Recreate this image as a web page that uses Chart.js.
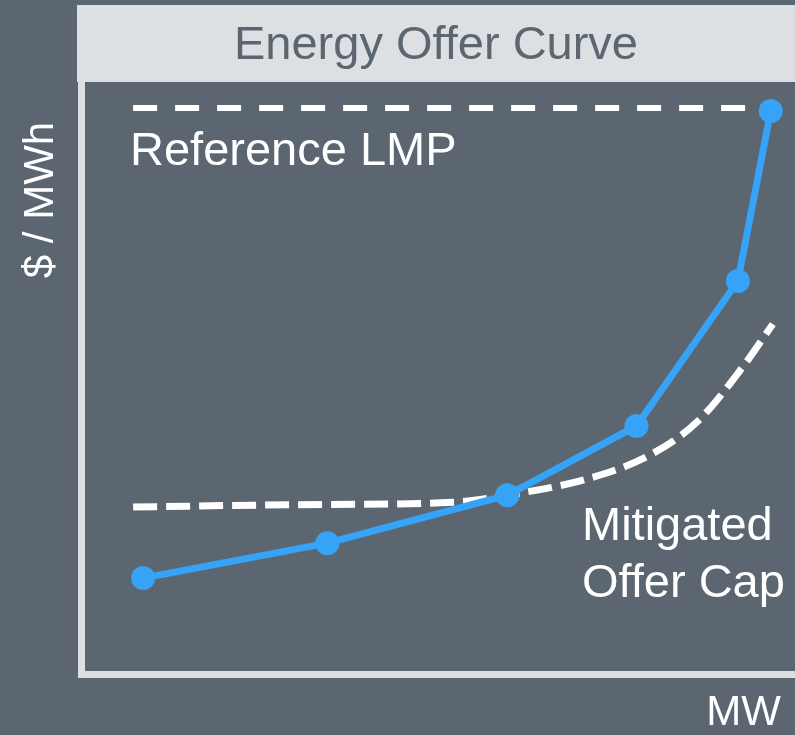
<!DOCTYPE html>
<html>
<head>
<meta charset="utf-8">
<script src="https://cdn.jsdelivr.net/npm/chart.js@4.4.1/dist/chart.umd.min.js"></script>
<style>
    html, body { margin: 0; padding: 0; background: #5b6670; }
    #wrap { width: 795px; height: 735px; position: relative; }
</style>
</head>
<body>
<div id="wrap"><canvas id="offerChart"></canvas></div>
<script>
// offer curve steps (MW, $/MWh), arbitrary units 0-100
const offerMw = [8.7, 34.5, 59.7, 77.8, 92.0, 96.6];
const offerPrice = [16.2, 22.1, 30.2, 41.9, 66.4, 95.1];

// mitigated offer cap curve
const capMw = [7.3, 30, 52, 59.7, 71.3, 79.7, 86.3, 92.7, 96.9];
const capPrice = [28.2, 28.6, 29.0, 30.2, 33.1, 37.0, 42.6, 51.9, 59.1];

// reference LMP level
const lmpMw = [7.3, 95.1];
const lmpPrice = [95.6, 95.6];

const bg = '#5b6670';
const light = '#dde0e3';
const blue = '#36a3f7';
const font = '"Liberation Sans", Arial, sans-serif';

function toPoints(xs, ys) {
    return xs.map((x, i) => ({ x: x, y: ys[i] }));
}

const decorations = {
    id: 'decorations',
    beforeDraw(chart) {
        const ctx = chart.ctx;
        ctx.save();
        ctx.fillStyle = bg;
        ctx.fillRect(0, 0, chart.width, chart.height);
        // title band
        ctx.fillStyle = light;
        ctx.fillRect(77, 5, chart.width - 77, 77);
        ctx.fillStyle = bg;
        ctx.font = '47px ' + font;
        ctx.textAlign = 'center';
        ctx.textBaseline = 'middle';
        ctx.fillText('Energy Offer Curve', 436, 46);
        ctx.restore();
    },
    afterDraw(chart) {
        const ctx = chart.ctx;
        ctx.save();
        ctx.fillStyle = '#ffffff';
        ctx.font = '47px ' + font;
        ctx.textBaseline = 'middle';
        ctx.textAlign = 'left';
        ctx.fillText('Reference LMP', 130, 152);
        ctx.fillText('Mitigated', 582, 527);
        ctx.fillText('Offer Cap', 582, 584);
        ctx.font = '42px ' + font;
        ctx.textAlign = 'right';
        ctx.fillText('MW', 781, 713);
        ctx.translate(41, 200);
        ctx.rotate(-Math.PI / 2);
        ctx.textAlign = 'center';
        ctx.fillText('$ / MWh', 0, 0);
        ctx.restore();
    }
};

new Chart(document.getElementById('offerChart'), {
    type: 'line',
    data: {
        datasets: [
            {
                label: 'Reference LMP',
                data: toPoints(lmpMw, lmpPrice),
                borderColor: '#ffffff',
                borderWidth: 6,
                borderDash: [24, 18],
                pointRadius: 0,
                order: 3
            },
            {
                label: 'Mitigated Offer Cap',
                data: toPoints(capMw, capPrice),
                borderColor: '#ffffff',
                borderWidth: 7,
                borderDash: [24, 9],
                cubicInterpolationMode: 'monotone',
                pointRadius: 0,
                order: 2
            },
            {
                label: 'Energy Offer',
                data: toPoints(offerMw, offerPrice),
                borderColor: blue,
                backgroundColor: blue,
                borderWidth: 7,
                pointRadius: 12,
                pointBorderWidth: 0,
                pointBackgroundColor: blue,
                order: 1
            }
        ]
    },
    options: {
        responsive: true,
        maintainAspectRatio: false,
        animation: false,
        layout: { autoPadding: false, padding: { left: 81, top: 82, right: 0, bottom: 61 } },
        plugins: {
            legend: { display: false },
            tooltip: { enabled: false }
        },
        scales: {
            x: {
                type: 'linear',
                min: 0,
                max: 100,
                ticks: { display: false },
                grid: { display: false, drawTicks: false },
                border: { display: true, color: light, width: 7 }
            },
            y: {
                type: 'linear',
                min: 0,
                max: 100,
                ticks: { display: false },
                grid: { display: false, drawTicks: false },
                border: { display: true, color: light, width: 7 }
            }
        }
    },
    plugins: [decorations]
});
</script>
</body>
</html>
